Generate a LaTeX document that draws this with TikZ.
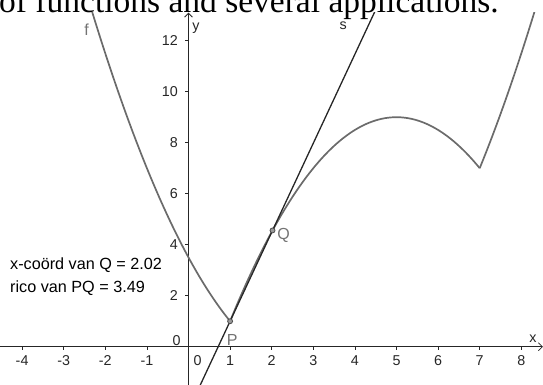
\documentclass[tikz,border=0pt]{standalone}
\usepackage{fontspec}
\setmainfont{Liberation Sans}
\newfontfamily\pageserif{Liberation Serif}
\usetikzlibrary{arrows.meta,calc}
\begin{document}
\begin{tikzpicture}[x=1pt,y=1pt,
 ax/.style={draw=black!85, line width=0.8pt},
 axarrow/.style={ax, -{Straight Barb[length=4pt,width=8pt]}},
 fcurve/.style={draw=black!58, line width=1.7pt},
 sline/.style={draw=black!85, line width=1.3pt},
 ticklab/.style={font=\fontsize{14.3}{15}\selectfont, text=black!85, inner sep=0pt},
 lab/.style={font=\fontsize{16}{16}\selectfont, text=black!55, inner sep=0pt},
 info/.style={font=\fontsize{16.2}{16}\selectfont, text=black, inner sep=0pt, anchor=west},
 ptdot/.style={circle, draw=black!70, fill=black!40, line width=0.8pt, inner sep=0pt, minimum size=5pt}]
\useasboundingbox (0,0) rectangle (543,385);
\node[anchor=base west, inner sep=0pt, font=\pageserif\fontsize{33.5}{33.5}\selectfont] (hdr) at (-1,372.5) {of functions and several applications.};
\begin{scope}
\clip (-1,-1) rectangle (544,372);
\begin{scope}[shift={(188.5,38.3)}, x=41.6pt, y=25.5pt]
 % axes
 \coordinate (xs) at (-4.6,0);
 \coordinate (xe) at (8.52,0);
 \coordinate (ys) at (0,-1.7);
 \coordinate (ye) at (0,13.1);
 \draw[axarrow] (xs) -- (xe);
 \draw[axarrow] (ys) -- (ye);
 \foreach \i in {-4,-3,-2,-1,1,2,3,4,5,6,7,8} {
   \draw[ax] (\i,0) -- ++(0,-3.5pt);
   \node[ticklab] (xl\i) at ([yshift=-14pt]\i,0) {\i};
 }
 \foreach \j in {2,4,6,8,10,12} {
   \draw[ax] (0,\j) -- ++(-3.5pt,0);
   \node[ticklab, anchor=east] (yl\j) at ([xshift=-10.5pt]0,\j) {\j};
 }
 \node[ticklab] (y0) at ([xshift=-11.8pt,yshift=6.5pt]0,0) {0};
 \node[ticklab] (x0) at ([xshift=9.2pt,yshift=-14pt]0,0) {0};
 \node[ticklab] (xname) at ([xshift=-10pt,yshift=7.5pt]xe) {x};
 \node[ticklab] (yname) at ([xshift=7.5pt,yshift=-16pt]ye) {y};
 % function f
 \draw[fcurve, domain=-2.6:1, samples=60] plot (\x, {0.5*\x*\x-3*\x+3.5});
 \draw[fcurve, domain=1:7, samples=80] plot (\x, {-0.5*(\x-5)*(\x-5)+9});
 \draw[fcurve, domain=7:8.6, samples=40] plot (\x, {0.5*\x*\x-3*\x+3.5});
 % points and line s
 \coordinate (P) at (1,1);
 \coordinate (Q) at (2.02,4.5598);
 \draw[sline] ($(P)!-1!(Q)$) -- ($(P)!3.6!(Q)$);
 \node[ptdot] (Pd) at (P) {};
 \node[ptdot] (Qd) at (Q) {};
 \node[lab] (Plab) at ([xshift=2pt,yshift=-18.5pt]P) {P};
 \node[lab] (Qlab) at ([xshift=11pt,yshift=-5pt]Q) {Q};
\end{scope}
\end{scope}
\node[lab] (flab) at (86.7,355.7) {f};
\node[ticklab] (slab) at (343.3,359) {s};
\node[info] (t1) at (10,120) {x-coörd van Q = 2.02};
\node[info] (t2) at (10,97) {rico van PQ = 3.49};
\end{tikzpicture}
\end{document}
